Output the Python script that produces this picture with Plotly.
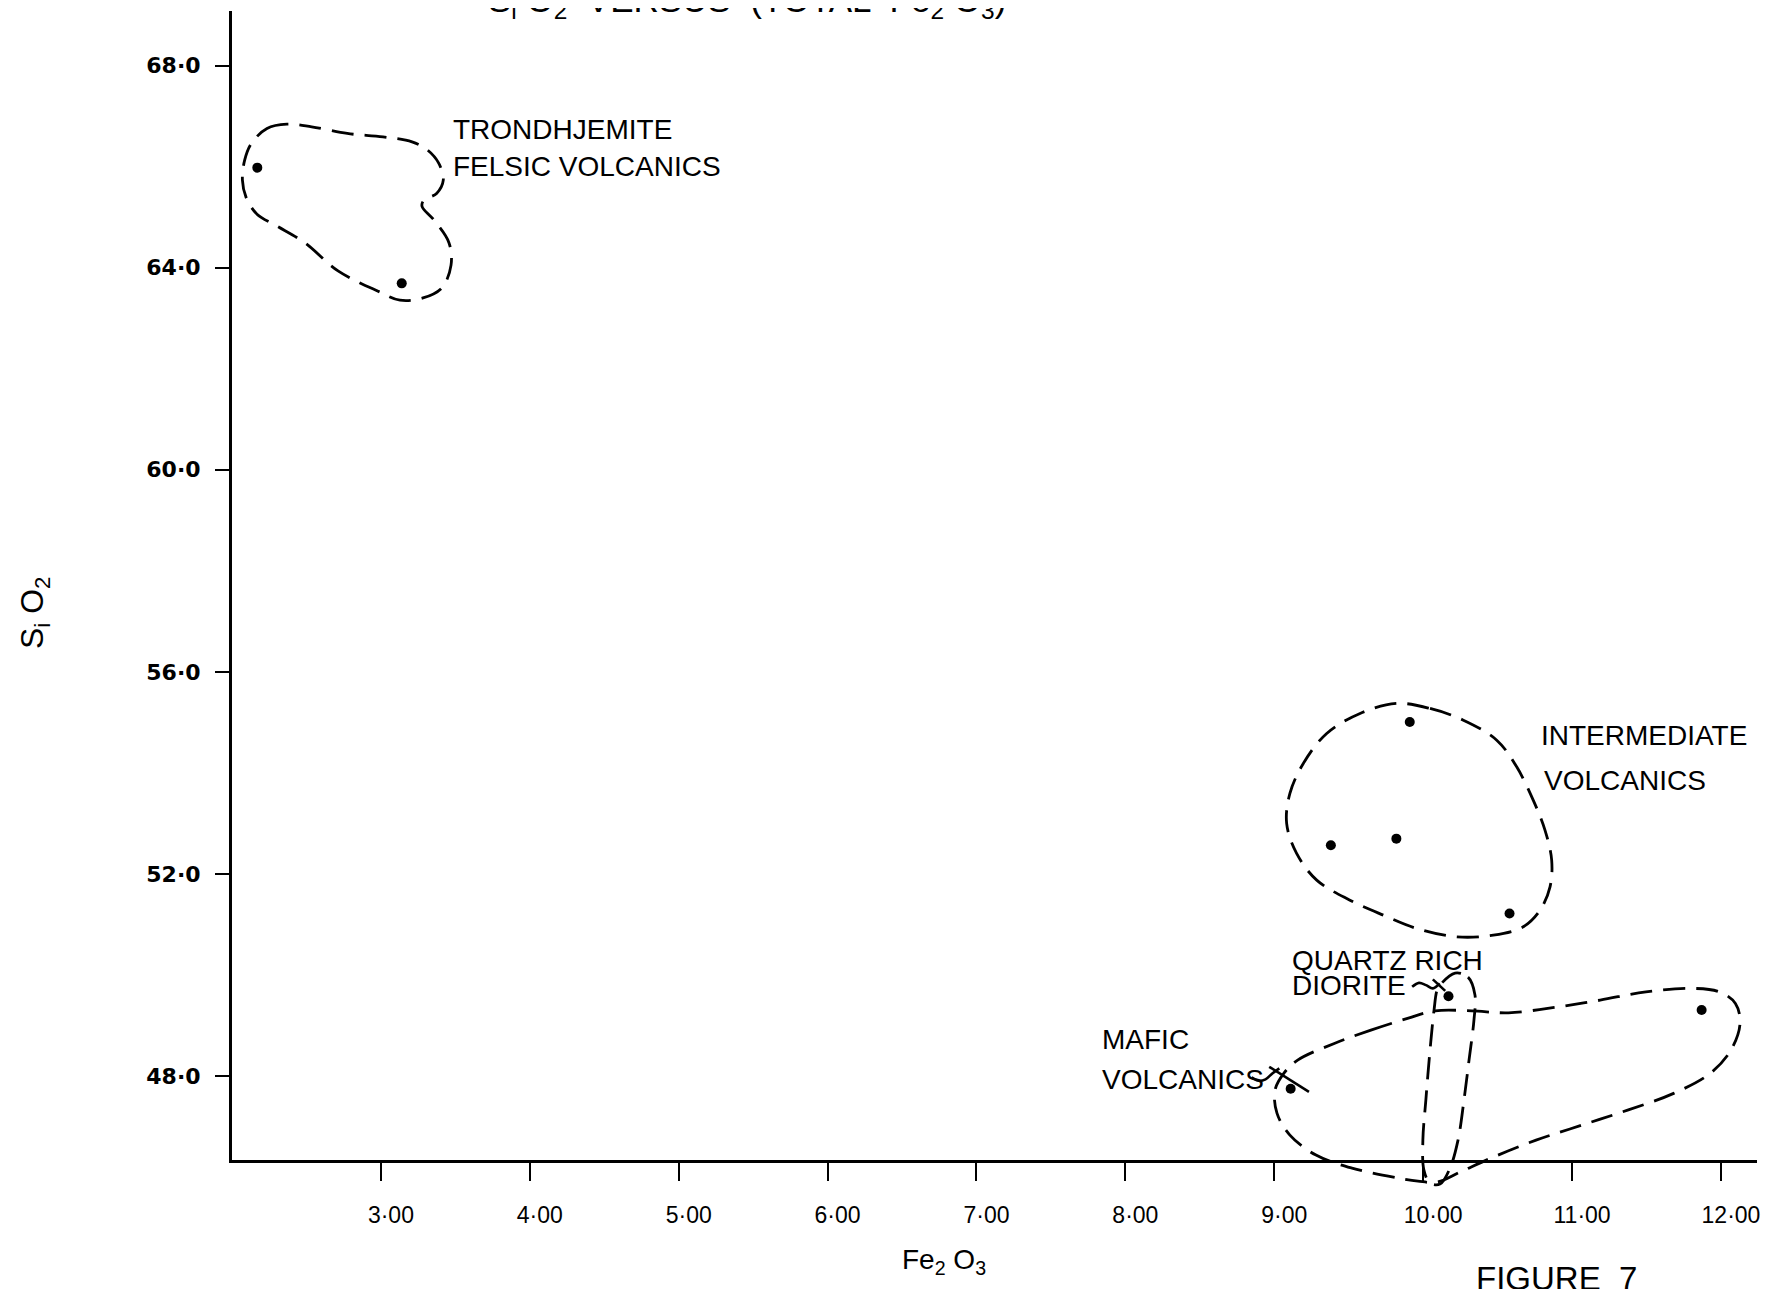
import plotly.graph_objects as go

# ---------------- data ----------------
felsic_x = [2.17, 3.14]
felsic_y = [65.98, 63.69]
inter_x = [9.91, 9.38, 9.82, 10.58]
inter_y = [55.01, 52.57, 52.70, 51.22]
qrd_x = [10.17, 10.07]
qrd_y = [49.58, 46.23]
mafic_x = [9.11, 11.87]
mafic_y = [47.75, 49.31]

# hand-drawn group outlines (Fe2O3, SiO2)
felsic_outline_x = [2.130, 2.235, 2.369, 2.535, 2.774, 3.014, 3.209, 3.314, 3.389, 3.419, 3.374, 3.289, 3.276,
                    3.357, 3.457, 3.471, 3.410, 3.283, 3.128, 2.981, 2.712, 2.488, 2.298, 2.168, 2.094, 2.070, 2.085]
felsic_outline_y = [66.458, 66.755, 66.840, 66.787, 66.656, 66.589, 66.490, 66.326, 66.063, 65.732, 65.469, 65.336, 65.217,
                    64.940, 64.495, 64.050, 63.603, 63.401, 63.357, 63.535, 63.937, 64.495, 64.830, 65.059, 65.396, 65.732, 66.128]

inter_outline_x = [9.822, 10.046, 10.270, 10.494, 10.628, 10.739, 10.818, 10.863, 10.852, 10.785, 10.672, 10.471,
                   10.225, 9.956, 9.732, 9.508, 9.285, 9.150, 9.083, 9.105, 9.195, 9.352, 9.576]
inter_outline_y = [55.376, 55.277, 55.045, 54.649, 54.121, 53.462, 52.868, 52.275, 51.746, 51.285, 50.955, 50.790,
                   50.757, 50.923, 51.186, 51.483, 51.879, 52.407, 53.001, 53.595, 54.188, 54.782, 55.178]

qrd_outline_x = [10.214, 10.301, 10.348, 10.341, 10.308, 10.274, 10.234, 10.180, 10.113, 10.046, 10.005, 9.998,
                 10.018, 10.046, 10.073, 10.093, 10.113]
qrd_outline_y = [50.039, 49.959, 49.603, 49.108, 48.317, 47.525, 46.733, 46.179, 45.863, 45.883, 46.140, 46.733,
                 47.525, 48.515, 49.306, 49.702, 49.801]

mafic_outline_x = [9.403, 9.649, 9.895, 10.080, 10.326, 10.573, 10.881, 11.189, 11.496, 11.805, 11.989, 12.097,
                   12.128, 12.067, 11.927, 11.682, 11.373, 11.066, 10.758, 10.450, 10.247, 10.093, 9.965, 9.837,
                   9.522, 9.280, 9.105, 9.018, 9.005, 9.065, 9.157]
mafic_outline_y = [48.647, 48.910, 49.142, 49.292, 49.292, 49.253, 49.360, 49.504, 49.668, 49.736, 49.668, 49.439,
                   49.043, 48.515, 48.053, 47.658, 47.327, 47.030, 46.733, 46.371, 46.100, 45.902, 45.922, 45.981,
                   46.179, 46.437, 46.832, 47.268, 47.723, 48.059, 48.317]

# leader squiggles from labels
mafic_wave_x = [8.848, 8.895, 8.941, 8.987, 9.034]
mafic_wave_y = [47.974, 47.907, 47.935, 48.053, 48.153]
mafic_slash_x = [8.966, 9.233]
mafic_slash_y = [48.184, 47.689]
qrd_wave_x = [9.926, 9.972, 10.019, 10.065, 10.111]
qrd_wave_y = [49.767, 49.846, 49.801, 49.736, 49.835]
qrd_slash_x = [10.065, 10.148]
qrd_slash_y = [49.914, 49.688]

# axis ticks
x_tickvals = [3, 4, 5, 6, 7, 8, 9, 10, 11, 12]
x_ticktext = ["3·00", "4·00", "5·00", "6·00", "7·00", "8·00", "9·00", "10·00", "11·00", "12·00"]
y_tickvals = [48, 52, 56, 60, 64, 68]
y_ticktext = ["48·0", "52·0", "56·0", "60·0", "64·0", "68·0"]

# group labels
label_text = ["TRONDHJEMITE", "FELSIC VOLCANICS", "INTERMEDIATE", "VOLCANICS",
              "QUARTZ RICH", "DIORITE", "MAFIC", "VOLCANICS"]
label_x = [3.471, 3.471, 10.780, 10.795, 9.105, 9.105, 7.829, 7.829]
label_y = [66.741, 66.009, 54.739, 53.846, 50.296, 49.801, 48.733, 47.931]

# ---------------- layout geometry (in picture pixels) ----------------
W_REF, H_REF = 1769, 1289
OFF = 8                              # default page margin of the html body
W, H = W_REF - OFF, H_REF - OFF
PLOT_LEFT, PLOT_RIGHT, PLOT_TOP, AXIS_ROW, PAPER_BOTTOM = 232, 1757, 11, 1160, 1229
ML = PLOT_LEFT - OFF
MT = PLOT_TOP - OFF
MR = W - (PLOT_RIGHT - OFF)
MB = H - (PAPER_BOTTOM - OFF)
PLOT_H = H - MT - MB
PLOT_W = W - ML - MR
d = (PAPER_BOTTOM - AXIS_ROW) / PLOT_H     # bottom of the main y domain
X_RANGE = [2.0, 12.242]
Y_RANGE = [46.34, 69.08]
Y2_RANGE = [Y_RANGE[1] - (Y_RANGE[1] - Y_RANGE[0]) / (1 - d), Y_RANGE[1]]


def px_x(px):
    return (px - PLOT_LEFT) / PLOT_W


def px_y(py):
    return (PAPER_BOTTOM - py) / PLOT_H


FONT = "Liberation Sans"
DASH = "22px,11px"

fig = go.Figure()

outline_sets = [(felsic_outline_x, felsic_outline_y), (inter_outline_x, inter_outline_y),
                (qrd_outline_x, qrd_outline_y), (mafic_outline_x, mafic_outline_y)]
for ox, oy in outline_sets:
    fig.add_trace(go.Scatter(x=ox + ox[:1], y=oy + oy[:1], mode="lines", xaxis="x2", yaxis="y2",
                             line=dict(color="black", width=2.8, dash=DASH, shape="spline", smoothing=1.0),
                             hoverinfo="skip", showlegend=False))

for sx, sy in [(mafic_wave_x, mafic_wave_y), (mafic_slash_x, mafic_slash_y),
               (qrd_wave_x, qrd_wave_y), (qrd_slash_x, qrd_slash_y)]:
    fig.add_trace(go.Scatter(x=sx, y=sy, mode="lines", xaxis="x2", yaxis="y2",
                             line=dict(color="black", width=2.6, shape="spline"),
                             hoverinfo="skip", showlegend=False))

for gx, gy, name in [(felsic_x, felsic_y, "Trondhjemite felsic volcanics"),
                     (inter_x, inter_y, "Intermediate volcanics"),
                     (qrd_x, qrd_y, "Quartz rich diorite"),
                     (mafic_x, mafic_y, "Mafic volcanics")]:
    fig.add_trace(go.Scatter(x=gx, y=gy, mode="markers", name=name, cliponaxis=False,
                             marker=dict(color="black", size=10), showlegend=False))

annotations = []
for t, lx, ly in zip(label_text, label_x, label_y):
    annotations.append(dict(x=lx, y=ly, xref="x", yref="y", text=t, showarrow=False,
                            xanchor="left", yanchor="middle",
                            font=dict(family=FONT, size=28, color="black")))

annotations += [
    dict(x=px_x(35), y=px_y(613), xref="paper", yref="paper", text="S<sub>i</sub> O<sub>2</sub>",
         showarrow=False, textangle=-90, xanchor="center", yanchor="middle",
         font=dict(family=FONT, size=32, color="black")),
    dict(x=px_x(944), y=px_y(1261), xref="paper", yref="paper", text="Fe<sub>2</sub> O<sub>3</sub>",
         showarrow=False, xanchor="center", yanchor="middle",
         font=dict(family=FONT, size=28, color="black")),
    dict(x=px_x(1556), y=px_y(1258), xref="paper", yref="paper", text="FIGURE  7",
         showarrow=False, xanchor="center", yanchor="top",
         font=dict(family=FONT, size=33, color="black")),
    dict(x=px_x(747), y=px_y(26), xref="paper", yref="paper",
         text="S<sub>i</sub> O<sub>2</sub>  VERSUS  (TOTAL  Fe<sub>2</sub> O<sub>3</sub>)",
         showarrow=False, xanchor="center", yanchor="bottom",
         font=dict(family=FONT, size=35, color="black")),
]

fig.update_layout(
    width=W, height=H,
    margin=dict(l=ML, r=MR, t=MT, b=MB, autoexpand=False),
    paper_bgcolor="white", plot_bgcolor="rgba(0,0,0,0)",
    showlegend=False,
    annotations=annotations,
    xaxis=dict(domain=[0, 1], anchor="y", range=X_RANGE, tickvals=x_tickvals, ticktext=x_ticktext,
               showline=True, linecolor="black", linewidth=3, ticks="outside", ticklen=18, tickwidth=2,
               tickcolor="black", showgrid=False, zeroline=False, ticklabelstandoff=14, ticklabelshift=10,
               tickfont=dict(family=FONT, size=23, color="black")),
    yaxis=dict(domain=[d, 1], anchor="x", range=Y_RANGE, tickvals=y_tickvals, ticktext=y_ticktext,
               showline=True, linecolor="black", linewidth=3, ticks="outside", ticklen=14, tickwidth=2,
               tickcolor="black", showgrid=False, zeroline=False, ticklabelstandoff=10,
               tickfont=dict(family="DejaVu Sans", size=22, color="black", weight="bold")),
    xaxis2=dict(domain=[0, 1], anchor="y2", range=X_RANGE, visible=False),
    yaxis2=dict(domain=[0, 1], anchor="x2", range=Y2_RANGE, visible=False),
)

fig.write_html("out.html")
